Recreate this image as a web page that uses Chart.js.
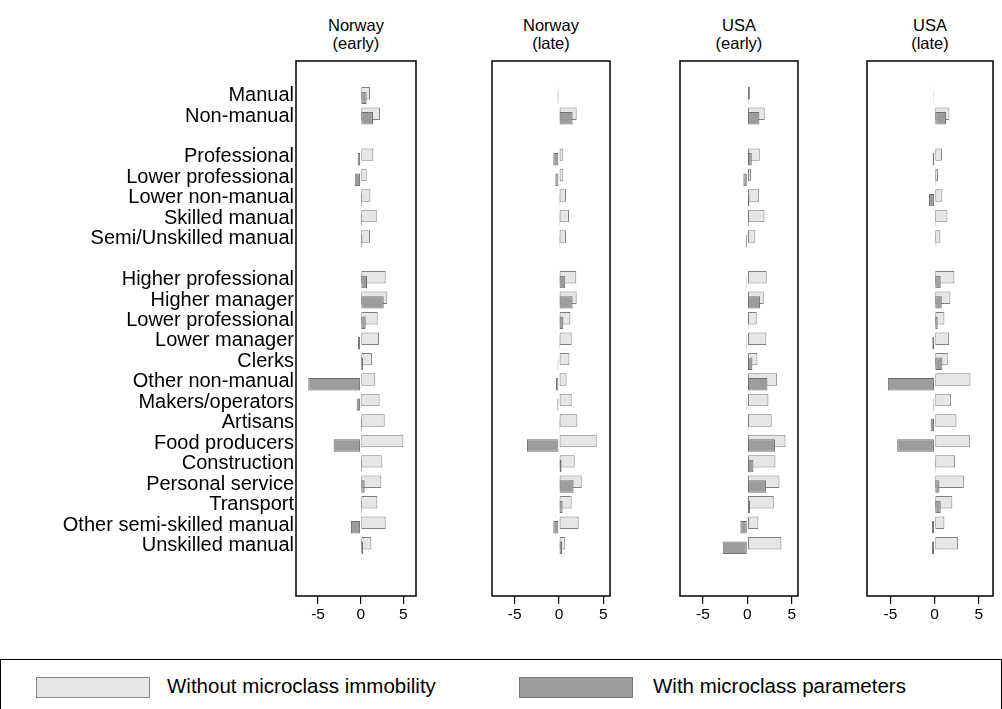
<!DOCTYPE html>
<html>
<head>
<meta charset="utf-8">
<script src="https://cdn.jsdelivr.net/npm/chart.js@4.4.0/dist/chart.umd.min.js"></script>
<style>
  body { margin:0; background:#fff; width:1002px; height:709px; overflow:hidden; position:relative; font-family:"Liberation Sans", Arial, sans-serif; }
  canvas { position:absolute; }
  .ttl { position:absolute; top:16px; width:160px; text-align:center; font-size:16.5px; line-height:18px; color:#000; }
  .legend { position:absolute; left:0; top:659px; width:1000px; height:60px; border:1px solid #000; }
  .sw { position:absolute; top:17px; width:112px; height:19px; border:1px solid #888; }
  .lt { position:absolute; top:13px; font-size:20.5px; line-height:26px; color:#000; white-space:nowrap; }
</style>
</head>
<body>
<div id="titles"></div>
<div class="legend">
  <div class="sw" style="left:35px;background:#e6e6e6"></div>
  <div class="lt" style="left:166px">Without microclass immobility</div>
  <div class="sw" style="left:518px;background:#9c9c9c;border-color:#777"></div>
  <div class="lt" style="left:652px">With microclass parameters</div>
</div>
<script>
// rows top to bottom, "" = spacer row
const rowLabels = ["Manual", "Non-manual", "",
  "Professional", "Lower professional", "Lower non-manual", "Skilled manual", "Semi/Unskilled manual", "",
  "Higher professional", "Higher manager", "Lower professional", "Lower manager", "Clerks", "Other non-manual",
  "Makers/operators", "Artisans", "Food producers", "Construction", "Personal service", "Transport",
  "Other semi-skilled manual", "Unskilled manual"];

const panelTitles = [["Norway", "(early)"], ["Norway", "(late)"], ["USA", "(early)"], ["USA", "(late)"]];
const xTicks = [-5, 0, 5];

const norwayEarlyWithout = [1.09, 2.26, null, 1.48, 0.7, 1.13, 1.88, 1.09, null, 2.93, 3.12, 1.99, 2.15, 1.32, 1.71, 2.22, 2.81, 5.0, 2.54, 2.42, 1.95, 2.93, 1.25];
const norwayEarlyWith = [0.7, 1.44, null, -0.35, -0.7, 0.15, 0.15, 0.2, null, 0.74, 2.7, 0.59, -0.32, 0.27, -6.14, -0.47, 0.15, -3.17, 0.15, 0.47, 0.15, -1.14, 0.27];
const norwayLateWithout = [-0.12, 1.99, null, 0.49, 0.49, 0.79, 1.13, 0.79, null, 1.95, 1.99, 1.28, 1.43, 1.17, 0.86, 1.43, 2.07, 4.25, 1.77, 2.56, 1.43, 2.22, 0.71];
const norwayLateWith = [-0.15, 1.54, null, -0.64, -0.41, 0.12, 0.12, 0.12, null, 0.71, 1.54, 0.49, 0.12, -0.15, -0.34, -0.19, 0.12, -3.61, 0.3, 1.65, 0.41, -0.64, 0.34];
const usaEarlyWithout = [0.3, 1.95, null, 1.39, 0.41, 1.32, 1.92, 0.9, null, 2.18, 1.84, 1.05, 2.14, 1.13, 3.35, 2.37, 2.74, 4.29, 3.16, 3.61, 2.97, 1.24, 3.83];
const usaEarlyWith = [0.12, 1.35, null, 0.49, -0.45, 0.23, 0.15, -0.19, null, -0.12, 1.43, 0.12, -0.12, 0.56, 2.26, -0.12, 0.12, 3.12, 0.68, 2.11, 0.3, -0.79, -2.78];
const usaLateWithout = [-0.1, 1.67, null, 0.83, 0.38, 0.87, 1.44, 0.64, null, 2.23, 1.78, 1.1, 1.63, 1.48, 4.05, 1.86, 2.46, 3.98, 2.31, 3.3, 2.0, 1.1, 2.65];
const usaLateWith = [-0.12, 1.29, null, -0.23, 0.12, -0.64, 0.12, 0.12, null, 0.68, 0.8, 0.34, -0.27, 0.87, -5.3, -0.15, -0.45, -4.24, 0.12, 0.53, 0.68, -0.3, -0.3];

const seriesWithout = [norwayEarlyWithout, norwayLateWithout, usaEarlyWithout, usaLateWithout];
const seriesWith = [norwayEarlyWith, norwayLateWith, usaEarlyWith, usaLateWith];

// panel boxes in page pixels, and x ranges
const boxes = [
  { left: 296, right: 416, min: -7.58, max: 6.48 },
  { left: 492, right: 610, min: -7.55, max: 5.75 },
  { left: 680, right: 798, min: -7.59, max: 5.7 },
  { left: 867, right: 993, min: -7.66, max: 6.6 }
];
const boxTop = 61, boxH = 535, xAxisH = 40, pad = 4;

const toPoints = arr => arr.map((v, i) => v === null ? null : { x: v, y: i }).filter(p => p);

const boxPlugin = {
  id: 'box',
  afterDraw(chart) {
    const a = chart.chartArea, ctx = chart.ctx;
    ctx.save();
    ctx.strokeStyle = '#000';
    ctx.lineWidth = 1.5;
    ctx.strokeRect(a.left, a.top, a.right - a.left, a.bottom - a.top);
    ctx.restore();
  }
};

// chart.js paints dataset 0 last; paint the dark bars over the light ones instead
const darkOnTop = {
  id: 'darkOnTop',
  beforeDatasetDraw(chart, args) {
    if (args.index === 1) return false;
  },
  afterDatasetsDraw(chart) {
    chart.getDatasetMeta(1).controller.draw();
  }
};

boxes.forEach((b, p) => {
  const first = p === 0;
  const cv = document.createElement('canvas');
  const left = first ? 0 : b.left - pad;
  const w = b.right + pad - left;
  cv.width = w;
  cv.height = pad + boxH + xAxisH;
  cv.style.left = left + 'px';
  cv.style.top = (boxTop - pad) + 'px';
  document.body.appendChild(cv);

  const t = document.createElement('div');
  t.className = 'ttl';
  t.style.left = ((b.left + b.right) / 2 - 80) + 'px';
  t.innerHTML = panelTitles[p][0] + '<br>' + panelTitles[p][1];
  document.getElementById('titles').appendChild(t);

  new Chart(cv, {
    type: 'bar',
    data: {
      datasets: [
        { label: 'Without microclass immobility', data: toPoints(seriesWithout[p]),
          backgroundColor: '#e6e6e6', borderColor: '#808080', borderWidth: 1, borderSkipped: false },
        { label: 'With microclass parameters', data: toPoints(seriesWith[p]),
          backgroundColor: '#9c9c9c', borderColor: '#707070', borderWidth: 1, borderSkipped: false }
      ]
    },
    options: {
      indexAxis: 'y',
      responsive: false,
      animation: false,
      devicePixelRatio: 1,
      categoryPercentage: 0.45,
      barPercentage: 2.7,
      layout: { padding: { left: first ? 0 : pad, right: pad, top: pad, bottom: 0 } },
      plugins: { legend: { display: false }, tooltip: { enabled: false } },
      scales: {
        x: {
          type: 'linear', min: b.min, max: b.max,
          afterBuildTicks: s => { s.ticks = xTicks.map(v => ({ value: v })); },
          afterFit: s => { s.height = xAxisH; s.paddingLeft = 0; s.paddingRight = 0; },
          grid: { display: true, drawOnChartArea: false, drawTicks: true, tickLength: 8, color: '#000', lineWidth: 1.2 },
          border: { display: false },
          ticks: { color: '#000', padding: 1, font: { family: 'Liberation Sans', size: 15.5 } }
        },
        y: {
          type: 'linear', reverse: true, offset: false, min: -1.69, max: 24.47,
          display: first,
          afterBuildTicks: s => { s.ticks = rowLabels.map((l, i) => ({ value: i })).filter(tk => rowLabels[tk.value]); },
          afterFit: s => {
            if (first) s.width = b.left;
            s.paddingTop = 0; s.paddingBottom = 0;
          },
          grid: { display: false, drawTicks: false },
          border: { display: false },
          ticks: { color: '#000', padding: 2, autoSkip: false, font: { family: 'Liberation Sans', size: 20 },
            callback: v => rowLabels[v] }
        }
      }
    },
    plugins: [boxPlugin, darkOnTop]
  });
});
</script>
</body>
</html>
